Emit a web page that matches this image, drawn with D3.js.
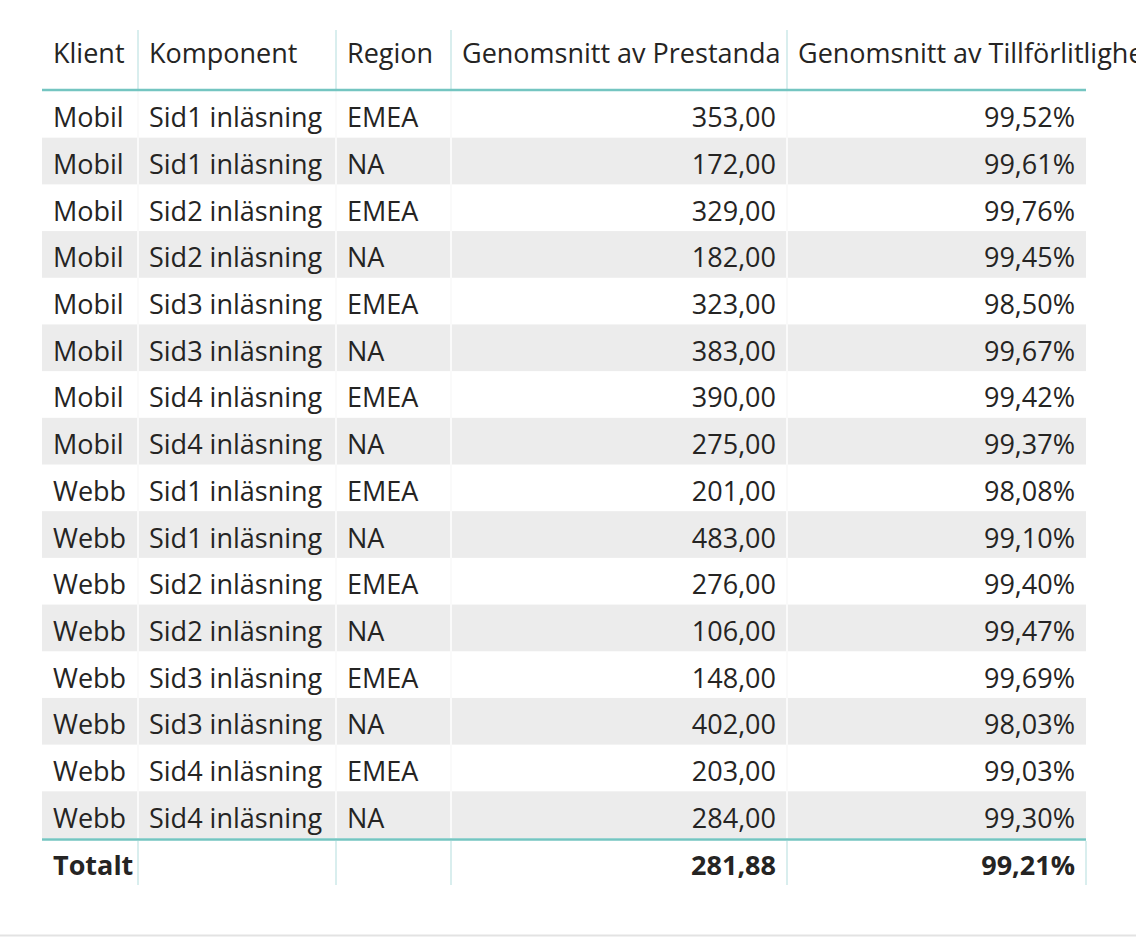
<!DOCTYPE html>
<html>
<head>
<meta charset="utf-8">
<script src="https://cdn.jsdelivr.net/npm/d3@7"></script>
<style>
  body { margin: 0; background: #fff; overflow: hidden; }
  text { font-family: "Open Sans", "Noto Sans", sans-serif; fill: #252423; }
</style>
</head>
<body>
<svg width="1136" height="937"></svg>
<script>
// table data
const headers = ['Klient', 'Komponent', 'Region', 'Genomsnitt av Prestanda', 'Genomsnitt av Tillförlitlighet'];
const klient = ['Mobil', 'Mobil', 'Mobil', 'Mobil', 'Mobil', 'Mobil', 'Mobil', 'Mobil',
                'Webb', 'Webb', 'Webb', 'Webb', 'Webb', 'Webb', 'Webb', 'Webb'];
const komponent = ['Sid1 inläsning', 'Sid1 inläsning', 'Sid2 inläsning', 'Sid2 inläsning',
                   'Sid3 inläsning', 'Sid3 inläsning', 'Sid4 inläsning', 'Sid4 inläsning',
                   'Sid1 inläsning', 'Sid1 inläsning', 'Sid2 inläsning', 'Sid2 inläsning',
                   'Sid3 inläsning', 'Sid3 inläsning', 'Sid4 inläsning', 'Sid4 inläsning'];
const region = ['EMEA', 'NA', 'EMEA', 'NA', 'EMEA', 'NA', 'EMEA', 'NA',
                'EMEA', 'NA', 'EMEA', 'NA', 'EMEA', 'NA', 'EMEA', 'NA'];
const prestanda = [353, 172, 329, 182, 323, 383, 390, 275, 201, 483, 276, 106, 148, 402, 203, 284];
const tillforlitlighet = [99.52, 99.61, 99.76, 99.45, 98.50, 99.67, 99.42, 99.37,
                          98.08, 99.10, 99.40, 99.47, 99.69, 98.03, 99.03, 99.30];
const totalLabel = 'Totalt';

const svg = d3.select('svg');

// swedish number format
const sv = d3.formatLocale({ decimal: ',', thousands: ' ', grouping: [3], currency: ['', ' kr'] });
const fmtNum = sv.format('.2f');
const fmtPct = v => sv.format('.2f')(v) + '%';

// column edges
const colEdges = [42, 138, 336, 451, 787, 1086];
const align = ['start', 'start', 'start', 'end', 'end'];
const pad = 11;
const fontSize = 27;

const rows = d3.range(klient.length).map(i => [
    klient[i], komponent[i], region[i], fmtNum(prestanda[i]), fmtPct(tillforlitlighet[i])
]);

const y = d3.scaleBand()
    .domain(d3.range(rows.length))
    .range([91, 838]);

const tx = (c) => align[c] === 'start' ? colEdges[c] + pad : colEdges[c + 1] - pad;

// striped rows
svg.selectAll('rect.stripe')
    .data(rows.map((r, i) => i).filter(i => i % 2 === 1))
    .enter().append('rect')
    .attr('class', 'stripe')
    .attr('x', colEdges[0])
    .attr('y', d => y(d))
    .attr('width', colEdges[5] - colEdges[0])
    .attr('height', y.bandwidth())
    .attr('fill', '#ececec');

// faint white column gaps in body
svg.selectAll('line.gap')
    .data(colEdges.slice(1, 5))
    .enter().append('line')
    .attr('x1', d => d).attr('x2', d => d)
    .attr('y1', y.range()[0]).attr('y2', y.range()[1])
    .attr('stroke', '#fafafa').attr('stroke-width', 2);

// header column lines
svg.selectAll('line.hsep')
    .data(colEdges.slice(1, 5))
    .enter().append('line')
    .attr('x1', d => d).attr('x2', d => d)
    .attr('y1', 30).attr('y2', 89)
    .attr('stroke', '#cde9e8').attr('stroke-width', 1.5);

// total column lines
svg.selectAll('line.tsep')
    .data(colEdges.slice(1))
    .enter().append('line')
    .attr('x1', d => d).attr('x2', d => d)
    .attr('y1', 841).attr('y2', 885)
    .attr('stroke', '#cde9e8').attr('stroke-width', 1.5);

// header text (last one runs past the edge, as in the source visual)
svg.selectAll('text.head')
    .data(headers)
    .enter().append('text')
    .attr('class', 'head')
    .attr('x', (d, c) => colEdges[c] + pad)
    .attr('y', 63)
    .attr('font-size', fontSize)
    .text(d => d);

// teal rules under header and above total
svg.append('line')
    .attr('x1', colEdges[0]).attr('x2', colEdges[5])
    .attr('y1', 90).attr('y2', 90)
    .attr('stroke', '#74c5c1').attr('stroke-width', 2.5);
svg.append('line')
    .attr('x1', colEdges[0]).attr('x2', colEdges[5])
    .attr('y1', 839.5).attr('y2', 839.5)
    .attr('stroke', '#74c5c1').attr('stroke-width', 2.5);

// body cells
const rowG = svg.selectAll('g.row')
    .data(rows)
    .enter().append('g')
    .attr('class', 'row')
    .attr('transform', (d, i) => `translate(0,${y(i) + y.bandwidth() / 2 + 13})`);

rowG.selectAll('text')
    .data(d => d)
    .enter().append('text')
    .attr('x', (d, c) => tx(c))
    .attr('text-anchor', (d, c) => align[c])
    .attr('font-size', fontSize)
    .text(d => d);

// total row
const totals = [totalLabel, '', '', fmtNum(d3.mean(prestanda)), fmtPct(d3.mean(tillforlitlighet))];
svg.selectAll('text.total')
    .data(totals)
    .enter().append('text')
    .attr('class', 'total')
    .attr('x', (d, c) => tx(c))
    .attr('y', 875)
    .attr('text-anchor', (d, c) => align[c])
    .attr('font-size', fontSize)
    .attr('font-weight', 'bold')
    .text(d => d);

// bottom border of the visual
svg.append('line')
    .attr('x1', 0).attr('x2', 1136)
    .attr('y1', 935.5).attr('y2', 935.5)
    .attr('stroke', '#e3e3e3').attr('stroke-width', 2);
</script>
</body>
</html>
